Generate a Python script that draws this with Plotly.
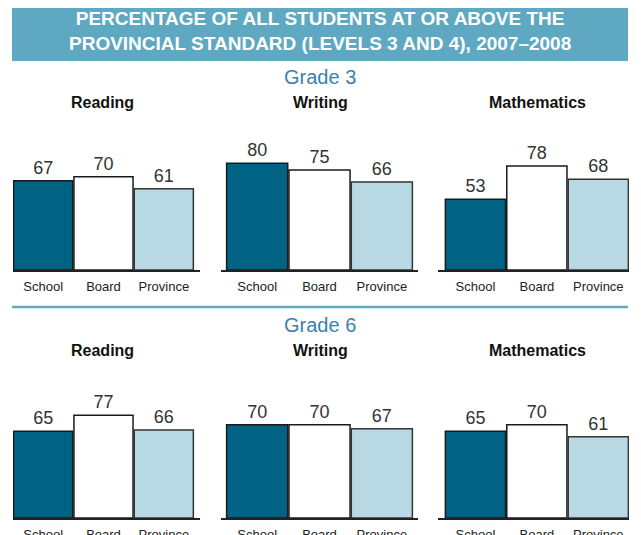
import plotly.graph_objects as go

# ---- data ----
categories = ["School", "Board", "Province"]
subjects = ["Reading", "Writing", "Mathematics"]
grades = ["Grade 3", "Grade 6"]
grade3_reading = [67, 70, 61]
grade3_writing = [80, 75, 66]
grade3_math = [53, 78, 68]
grade6_reading = [65, 77, 66]
grade6_writing = [70, 70, 67]
grade6_math = [65, 70, 61]
title_text = ("PERCENTAGE OF ALL STUDENTS AT OR ABOVE THE<br>"
              "PROVINCIAL STANDARD (LEVELS 3 AND 4), 2007–2008")

values = [[grade3_reading, grade3_writing, grade3_math],
          [grade6_reading, grade6_writing, grade6_math]]

# ---- styling / layout ----
W, H = 641, 535
OFF = 8  # page body margin offset
bar_colors = ["#006384", "#ffffff", "#b8d8e3"]
line_colors = ["#1a1a1a", "#1a1a1a", "#333333"]
banner_color = "#5ea8c2"
grade_color = "#3a7fae"
FONT = "Liberation Sans, Arial, sans-serif"

panel_x = [(13, 200), (221, 418), (438, 629)]      # axis extents in px (page)
panel_ranges = [[-0.5, 2.6], [-0.58, 2.58], [-0.61, 2.5]]
baselines = [270, 518]
panel_h = 140
yrange = [0, 105]
title_x = [102, 320, 537]
grade_y = [77, 325]
subj_y = [102, 350]


def px(x):
    return (x - OFF) / W


def py(y):
    return 1 - (y - OFF) / H


fig = go.Figure()
layout = dict(
    width=W, height=H,
    margin=dict(l=0, r=0, t=0, b=0),
    paper_bgcolor="white", plot_bgcolor="white",
    showlegend=False,
    font=dict(family=FONT, color="#222222"),
)

annotations = []
idx = 0
for g in range(2):
    for s in range(3):
        idx += 1
        xa = "x" if idx == 1 else f"x{idx}"
        ya = "y" if idx == 1 else f"y{idx}"
        fig.add_trace(go.Bar(
            x=categories, y=values[g][s],
            xaxis=xa, yaxis=ya,
            width=0.98,
            marker=dict(color=bar_colors, line=dict(color=line_colors, width=1.5)),
            text=[str(v) for v in values[g][s]],
            textposition="outside",
            textfont=dict(family=FONT, size=18, color="#333333"),
            cliponaxis=False,
            hoverinfo="skip",
        ))
        x0, x1 = panel_x[s]
        b = baselines[g]
        layout[f"xaxis{'' if idx == 1 else idx}"] = dict(
            domain=[px(x0), px(x1)], anchor=ya,
            range=panel_ranges[s], type="category",
            showline=True, linecolor="#222222", linewidth=1.5,
            showgrid=False, zeroline=False, ticks="",
            tickfont=dict(family=FONT, size=13, color="#222222"),
            ticklabelstandoff=4,
            fixedrange=True,
        )
        layout[f"yaxis{'' if idx == 1 else idx}"] = dict(
            domain=[py(b), py(b - panel_h)], anchor=xa,
            range=yrange, visible=False, fixedrange=True,
        )
        annotations.append(dict(
            text=f"<b>{subjects[s]}</b>", x=px(title_x[s]), y=py(subj_y[g]),
            xref="paper", yref="paper", showarrow=False,
            xanchor="center", yanchor="middle",
            font=dict(family=FONT, size=16, color="#111111"),
        ))
    annotations.append(dict(
        text=grades[g], x=px(320), y=py(grade_y[g]),
        xref="paper", yref="paper", showarrow=False,
        xanchor="center", yanchor="middle",
        font=dict(family=FONT, size=20, color=grade_color),
    ))

annotations.append(dict(
    text=f"<b>{title_text}</b>", x=px(320), y=py(31),
    xref="paper", yref="paper", showarrow=False,
    xanchor="center", yanchor="middle",
    font=dict(family=FONT, size=19, color="white"),
))

shapes = [
    dict(type="rect", xref="paper", yref="paper",
         x0=px(12), x1=px(628), y0=py(61), y1=py(7),
         fillcolor=banner_color, line=dict(width=0), layer="below"),
    dict(type="line", xref="paper", yref="paper",
         x0=px(12), x1=px(628), y0=py(307), y1=py(307),
         line=dict(color=banner_color, width=2.5)),
]

layout["annotations"] = annotations
layout["shapes"] = shapes
fig.update_layout(**layout)
fig.write_html("out.html")
